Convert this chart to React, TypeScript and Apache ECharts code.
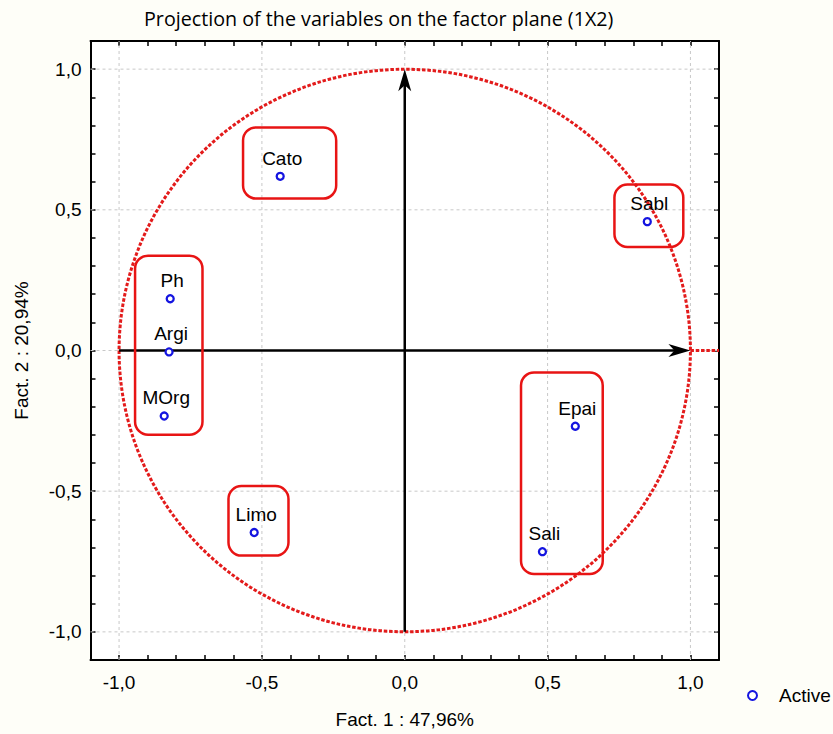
import React, { useEffect, useRef } from 'react';
import * as echarts from 'echarts';

// Variables projected on the factor plane
const variables = ['Cato', 'Sabl', 'Ph', 'Argi', 'MOrg', 'Limo', 'Epai', 'Sali'];
const factor1 = [-0.436, 0.849, -0.821, -0.825, -0.842, -0.527, 0.597, 0.482];
const factor2 = [0.619, 0.458, 0.184, -0.005, -0.233, -0.647, -0.269, -0.715];

// Axis tick labels (major ticks)
const tickValues = [-1, -0.5, 0, 0.5, 1];
const tickLabels = ['-1,0', '-0,5', '0,0', '0,5', '1,0'];

// Group annotation boxes, in factor units (x1, y1 top-left; x2, y2 bottom-right)
const boxX1 = [-0.566, -0.944, 0.734, 0.407, -0.617];
const boxY1 = [0.793, 0.337, 0.590, -0.078, -0.482];
const boxX2 = [-0.240, -0.708, 0.975, 0.693, -0.407];
const boxY2 = [0.540, -0.299, 0.368, -0.794, -0.729];

const FONT = '"Liberation Sans", Arial, sans-serif';

function fmt(v: number) {
  const i = tickValues.findIndex((t) => Math.abs(t - v) < 1e-6);
  return i >= 0 ? tickLabels[i] : '';
}

export default function App() {
  const ref = useRef<HTMLDivElement>(null);
  useEffect(() => {
    if (!ref.current) return;
    const chart = echarts.init(ref.current, null, { renderer: 'svg' });

    const axisCommon: any = {
      type: 'value',
      min: -1.1,
      max: 1.1,
      interval: 0.1,
      axisLine: { show: true, onZero: false, lineStyle: { color: '#000', width: 2 } },
      axisTick: { show: true, inside: true, length: 5, lineStyle: { color: '#000', width: 1.5 } },
      splitLine: { show: false },
    };

    const pointData = variables.map((n, i) => ({ name: n, value: [factor1[i], factor2[i]] }));
    const boxData = boxX1.map((x, i) => [x, boxY1[i], boxX2[i], boxY2[i]]);

    const option: any = {
      animation: false,
      backgroundColor: '#fefef8',
      title: {
        text: 'Projection of the variables on the factor plane (1X2)',
        left: 139,
        top: 3,
        textStyle: { fontFamily: '"Open Sans", sans-serif', fontSize: 19.7, fontWeight: 'normal', color: '#000' },
      },
      legend: {
        data: ['Active'],
        left: 747,
        top: 686,
        padding: 0,
        itemWidth: 9,
        itemHeight: 9,
        textStyle: { fontFamily: FONT, fontSize: 19, color: '#000', padding: [0, 0, 0, 17] },
      },
      grid: {
        left: 90.5,
        right: 114,
        top: 41,
        bottom: 74,
        show: true,
        backgroundColor: '#ffffff',
        borderWidth: 0,
      },
      xAxis: [
        {
          ...axisCommon,
          position: 'bottom',
          name: 'Fact. 1 : 47,96%',
          nameLocation: 'middle',
          nameGap: 50,
          nameTextStyle: { fontFamily: FONT, fontSize: 19, color: '#000' },
          axisLabel: { formatter: fmt, fontFamily: FONT, fontSize: 19, color: '#000', margin: 13 },
        },
        { ...axisCommon, position: 'top', axisLabel: { show: false } },
      ],
      yAxis: [
        {
          ...axisCommon,
          position: 'left',
          name: 'Fact. 2 : 20,94%',
          nameLocation: 'middle',
          nameRotate: 90,
          nameGap: 60,
          nameTextStyle: { fontFamily: FONT, fontSize: 19, color: '#000' },
          axisLabel: { formatter: fmt, fontFamily: FONT, fontSize: 19, color: '#000', margin: 9 },
        },
        { ...axisCommon, position: 'right', axisLabel: { show: false } },
      ],
      series: [
        {
          type: 'custom',
          name: 'decor',
          silent: true,
          clip: false,
          z: 1,
          data: [[0, 0]],
          renderItem: (params: any, api: any) => {
            const children: any[] = [];
            const gridStyle = { stroke: '#c8c8c8', lineWidth: 1, lineDash: [3, 3] };
            tickValues.forEach((v) => {
              const a = api.coord([v, -1.1]);
              const b = api.coord([v, 1.1]);
              children.push({ type: 'line', shape: { x1: a[0], y1: a[1], x2: b[0], y2: b[1] }, style: gridStyle });
              const c = api.coord([-1.1, v]);
              const d = api.coord([1.1, v]);
              children.push({ type: 'line', shape: { x1: c[0], y1: c[1], x2: d[0], y2: d[1] }, style: gridStyle });
            });
            const c0 = api.coord([0, 0]);
            const rx = api.size([1, 0])[0];
            const ry = api.size([0, 1])[1];
            const cx = c0[0];
            const cy = c0[1];
            const red = { stroke: '#e31b1b', lineWidth: 3, lineDash: [3.5, 1.8], fill: null };
            children.push({
              type: 'path',
              shape: {
                pathData: `M ${cx - rx} ${cy} A ${rx} ${ry} 0 1 0 ${cx + rx} ${cy} A ${rx} ${ry} 0 1 0 ${cx - rx} ${cy} Z`,
              },
              style: red,
            });
            const e1 = api.coord([1, 0]);
            const e2 = api.coord([1.1, 0]);
            children.push({ type: 'line', shape: { x1: e1[0], y1: e1[1], x2: e2[0], y2: e2[1] }, style: red });
            // axes arrows
            const l = api.coord([-1, 0]);
            const r = api.coord([1, 0]);
            const bt = api.coord([0, -1]);
            const tp = api.coord([0, 1]);
            const blk = { stroke: '#000', lineWidth: 2.5 };
            children.push({ type: 'line', shape: { x1: l[0], y1: l[1], x2: r[0] - 10, y2: r[1] }, style: blk });
            children.push({ type: 'line', shape: { x1: bt[0], y1: bt[1], x2: tp[0], y2: tp[1] + 10 }, style: blk });
            children.push({
              type: 'polygon',
              shape: { points: [[r[0], r[1]], [r[0] - 22, r[1] - 6.5], [r[0] - 16, r[1]], [r[0] - 22, r[1] + 6.5]] },
              style: { fill: '#000' },
            });
            children.push({
              type: 'polygon',
              shape: { points: [[tp[0], tp[1]], [tp[0] - 6.5, tp[1] + 22], [tp[0], tp[1] + 16], [tp[0] + 6.5, tp[1] + 22]] },
              style: { fill: '#000' },
            });
            return { type: 'group', children };
          },
        },
        {
          type: 'custom',
          name: 'groups',
          silent: true,
          clip: false,
          z: 3,
          data: boxData,
          encode: { x: [0, 2], y: [1, 3] },
          renderItem: (params: any, api: any) => {
            const p1 = api.coord([api.value(0), api.value(1)]);
            const p2 = api.coord([api.value(2), api.value(3)]);
            return {
              type: 'rect',
              shape: { x: p1[0], y: p1[1], width: p2[0] - p1[0], height: p2[1] - p1[1], r: 13 },
              style: { stroke: '#e81414', lineWidth: 2.5, fill: null },
            };
          },
        },
        {
          type: 'scatter',
          name: 'Active',
          z: 5,
          symbol: 'circle',
          symbolSize: 7,
          itemStyle: { color: '#ffffff', borderColor: '#1414e0', borderWidth: 2.3, opacity: 1 },
          label: {
            show: true,
            position: 'top',
            distance: 4,
            offset: [2, 0],
            formatter: '{b}',
            fontFamily: FONT,
            fontSize: 19,
            color: '#000',
          },
          data: pointData,
        },
      ],
    };
    chart.setOption(option);
    return () => chart.dispose();
  }, []);
  return <div ref={ref} style={{ position: 'fixed', left: 0, top: 0, width: 833, height: 734 }} />;
}
